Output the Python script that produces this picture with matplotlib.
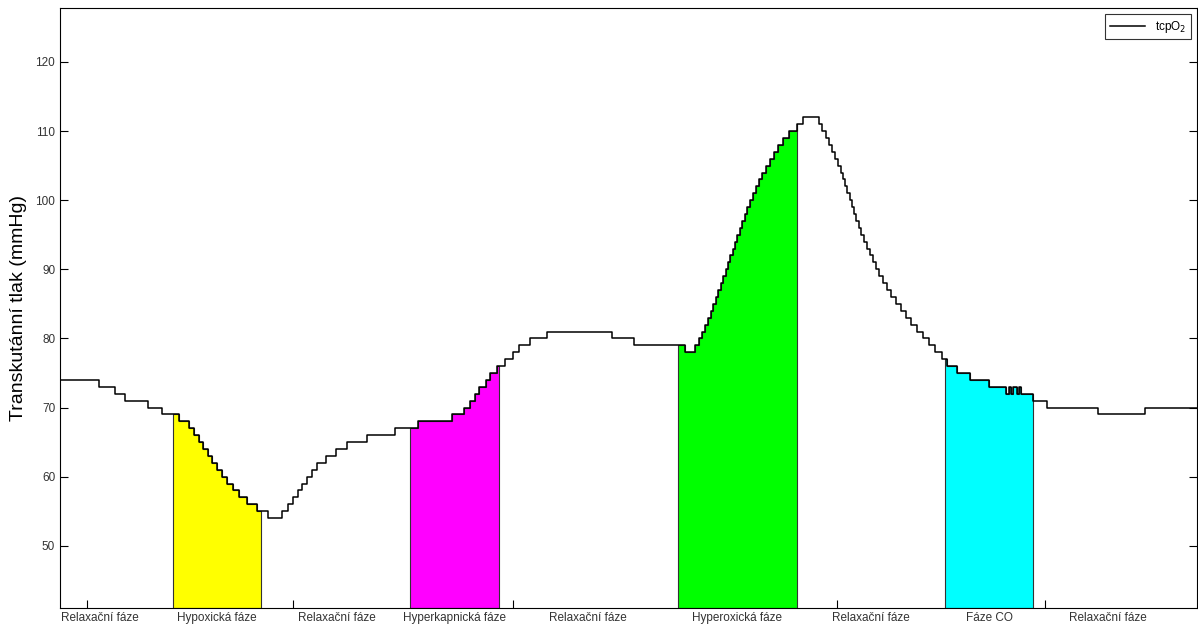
import numpy as np
import matplotlib.pyplot as plt
from matplotlib.transforms import blended_transform_factory

plt.rcParams['font.family'] = ['Liberation Sans', 'DejaVu Sans']

# tcpO2 record: time of each step (arbitrary units) and value from that time on (mmHg)
step_time = [0, 39, 55, 65, 88, 102, 119, 129, 134, 139, 143, 148, 152, 157, 162, 167,
             173, 179, 187, 197, 208, 222, 228, 233, 238, 242, 247, 252, 257, 266, 276,
             287, 307, 335, 358, 392, 404, 410, 415, 419, 426, 430, 437, 445, 453, 459,
             470, 487, 552, 574, 625, 635, 639, 642, 645, 648, 651, 653, 656, 658, 661,
             663, 666, 668, 670, 673, 675, 677, 680, 682, 685, 687, 690, 693, 696, 699,
             702, 706, 710, 714, 718, 723, 729, 737, 743, 759, 762, 766, 769, 772, 775,
             778, 781, 783, 785, 787, 790, 792, 794, 796, 799, 801, 804, 807, 810, 813,
             816, 819, 823, 827, 831, 836, 841, 846, 851, 857, 863, 869, 875, 882, 887,
             897, 910, 929, 946, 949, 951, 953, 957, 959, 961, 973, 987, 1038, 1085, 1137]
step_value = [74, 73, 72, 71, 70, 69, 68, 67, 66, 65, 64, 63, 62, 61, 60, 59,
              58, 57, 56, 55, 54, 55, 56, 57, 58, 59, 60, 61, 62, 63, 64,
              65, 66, 67, 68, 69, 70, 71, 72, 73, 74, 75, 76, 77, 78, 79,
              80, 81, 80, 79, 78, 79, 80, 81, 82, 83, 84, 85, 86, 87, 88,
              89, 90, 91, 92, 93, 94, 95, 96, 97, 98, 99, 100, 101, 102, 103,
              104, 105, 106, 107, 108, 109, 110, 111, 112, 111, 110, 109, 108, 107, 106,
              105, 104, 103, 102, 101, 100, 99, 98, 97, 96, 95, 94, 93, 92, 91,
              90, 89, 88, 87, 86, 85, 84, 83, 82, 81, 80, 79, 78, 77, 76,
              75, 74, 73, 72, 73, 72, 73, 72, 73, 72, 71, 70, 69, 70, 70]

# gas phases (start, end) and their colours
phase_start = [113, 350, 618, 885]
phase_end = [201, 439, 737, 973]
phase_color = ['#ffff00', '#ff00ff', '#00ff00', '#00ffff']

# x-axis phase labels and their positions
label_pos = [40, 157, 277, 395, 528, 677, 811, 929, 1048]
label_text = ['Relaxační fáze', 'Hypoxická fáze', 'Relaxační fáze', 'Hyperkapnická fáze',
              'Relaxační fáze', 'Hyperoxická fáze', 'Relaxační fáze', 'Fáze CO',
              'Relaxační fáze']
tick_pos = [27, 233, 453, 777, 985]

t = np.array(step_time, dtype=float)
v = np.array(step_value, dtype=float)
y_bottom = 41

fig = plt.figure(figsize=(11.98, 6.27), dpi=100)
ax = fig.add_axes([0.0501, 0.0303, 0.9490, 0.9569])

for a, b, c in zip(phase_start, phase_end, phase_color):
    inside = (t > a) & (t < b)
    i0 = np.searchsorted(t, a, side='right') - 1
    i1 = np.searchsorted(t, b, side='right') - 1
    xs = np.concatenate([[a], t[inside], [b]])
    ys = np.concatenate([[v[i0]], v[inside], [v[i1]]])
    xs_p = np.repeat(xs, 2)[1:]
    ys_p = np.repeat(ys, 2)[:-1]
    px = np.concatenate([[a], xs_p, [b]])
    py = np.concatenate([[y_bottom], ys_p, [y_bottom]])
    ax.fill(px, py, facecolor=c, edgecolor='#333333', linewidth=0.8, zorder=2)

ax.step(t, v, where='post', color='black', linewidth=1.1, label='tcpO$_2$', zorder=3)

ax.set_xlim(0, 1137)
ax.set_ylim(y_bottom, 127.8)
ax.set_yticks(np.arange(50, 121, 10))
ax.set_xticks(tick_pos)
ax.set_xticklabels([])
ax.tick_params(direction='in', length=6, width=0.8, top=False, right=True,
               labelsize=8.5, colors='black', labelcolor='#333333')
ax.set_ylabel('Transkutánní tlak (mmHg)', fontsize=14, labelpad=6)

trans = blended_transform_factory(ax.transData, ax.transAxes)
for x, s in zip(label_pos, label_text):
    ax.text(x, -0.006, s, transform=trans, ha='center', va='top', fontsize=8.5,
            color='#333333')

for sp in ax.spines.values():
    sp.set_linewidth(0.8)

leg = ax.legend(loc='upper right', fontsize=8.5, frameon=True, fancybox=False,
                handlelength=3, borderaxespad=0.5, borderpad=0.4)
leg.get_frame().set_edgecolor('black')
leg.get_frame().set_linewidth(0.8)

fig.savefig('out.png', dpi=100)
